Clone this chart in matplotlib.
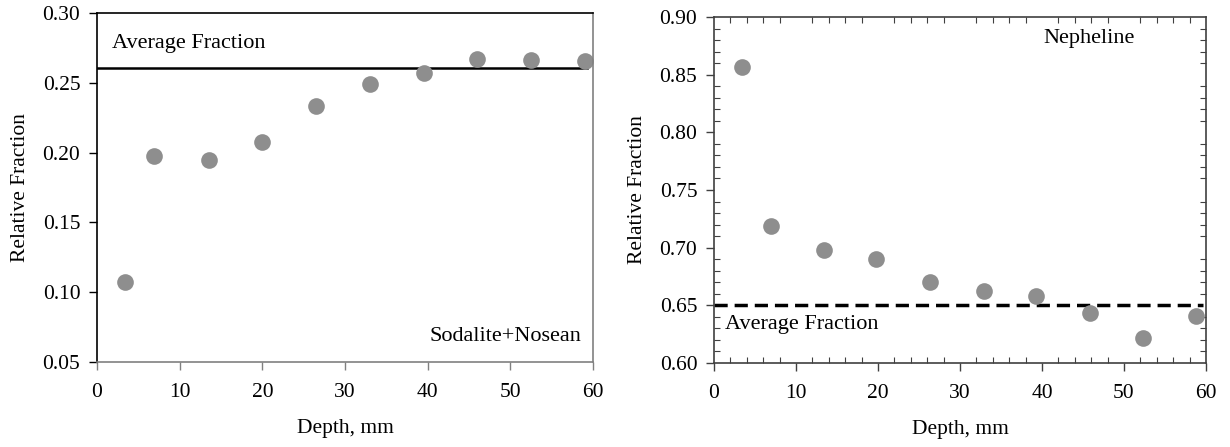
import matplotlib
matplotlib.use('Agg')
import matplotlib.pyplot as plt
from matplotlib.ticker import MultipleLocator

plt.rcParams['font.family'] = ['Liberation Serif', 'DejaVu Serif']

# depth of each slice, mm
depth_sod = [3.4, 6.9, 13.5, 20.0, 26.5, 33.0, 39.5, 46.0, 52.5, 59.0]
frac_sod = [0.1075, 0.1976, 0.1947, 0.2074, 0.2334, 0.2494, 0.2573, 0.2673, 0.2666, 0.2656]
avg_sod = 0.2605
avg_sod_span = [0, 59.3]

depth_nep = [3.4, 6.9, 13.4, 19.8, 26.4, 32.9, 39.3, 45.9, 52.3, 58.8]
frac_nep = [0.857, 0.719, 0.698, 0.690, 0.670, 0.662, 0.658, 0.643, 0.622, 0.641]
avg_nep = 0.650
avg_nep_span = [0, 59.6]

W, H = 1230, 447
fig = plt.figure(figsize=(W / 100, H / 100), dpi=100)

def box(l, t, r, b):
    return [l / W, 1 - b / H, (r - l) / W, (b - t) / H]

ax1 = fig.add_axes(box(97, 13, 593, 362))
ax2 = fig.add_axes(box(714, 17, 1206, 363))

dot = '#8e8e8e'
fs = 15.5
lfs = 15.5

# ── left: sodalite + nosean ──
ax1.plot(avg_sod_span, [avg_sod, avg_sod], color='black', lw=1.8, zorder=1)
ax1.plot(depth_sod, frac_sod, 'o', ms=12, color=dot, mec='none', zorder=2, clip_on=False)
ax1.set_xlim(0, 60)
ax1.set_ylim(0.05, 0.30)
ax1.xaxis.set_major_locator(MultipleLocator(10))
ax1.yaxis.set_major_locator(MultipleLocator(0.05))
ax1.yaxis.set_major_formatter(plt.FormatStrFormatter('%.2f'))
ax1.spines['left'].set_color('black')
ax1.spines['top'].set_color('black')
ax1.spines['bottom'].set_color('#808080')
ax1.spines['right'].set_color('#808080')
for s in ax1.spines.values():
    s.set_linewidth(1.2)
ax1.tick_params(axis='both', direction='out', length=6, width=1, labelsize=fs, color='#808080')
ax1.tick_params(axis='y', color='black', pad=6)
ax1.tick_params(axis='x', pad=9)
ax1.set_xlabel('Depth, mm', fontsize=lfs, labelpad=12)
ax1.set_ylabel('Relative Fraction', fontsize=lfs, labelpad=9)
ax1.text(1.8, 0.278, 'Average Fraction', fontsize=16, va='center', ha='left')
ax1.text(58.6, 0.068, 'Sodalite+Nosean', fontsize=16, va='center', ha='right')

# ── right: nepheline ──
ax2.plot(avg_nep_span, [avg_nep, avg_nep], color='black', lw=2.5, dashes=(3.8, 2.0), zorder=1)
ax2.plot(depth_nep, frac_nep, 'o', ms=12, color=dot, mec='none', zorder=2, clip_on=False)
ax2.set_xlim(0, 60)
ax2.set_ylim(0.60, 0.90)
ax2.xaxis.set_major_locator(MultipleLocator(10))
ax2.xaxis.set_minor_locator(MultipleLocator(2))
ax2.yaxis.set_major_locator(MultipleLocator(0.05))
ax2.yaxis.set_minor_locator(MultipleLocator(0.01))
ax2.yaxis.set_major_formatter(plt.FormatStrFormatter('%.2f'))
for s in ax2.spines.values():
    s.set_color('#404040')
    s.set_linewidth(1.2)
ax2.tick_params(which='major', direction='out', length=6, width=1, labelsize=fs, color='#404040')
ax2.tick_params(which='minor', direction='in', length=4, width=0.8, color='#404040',
                top=True, right=True)
ax2.tick_params(axis='y', pad=6)
ax2.tick_params(axis='x', pad=9)
ax2.set_xlabel('Depth, mm', fontsize=lfs, labelpad=12)
ax2.set_ylabel('Relative Fraction', fontsize=lfs, labelpad=9)
ax2.text(45.7, 0.8816, 'Nepheline', fontsize=16, va='center', ha='center')
ax2.text(1.3, 0.6333, 'Average Fraction', fontsize=16, va='center', ha='left')

fig.savefig('out.png', dpi=100, facecolor='white')
